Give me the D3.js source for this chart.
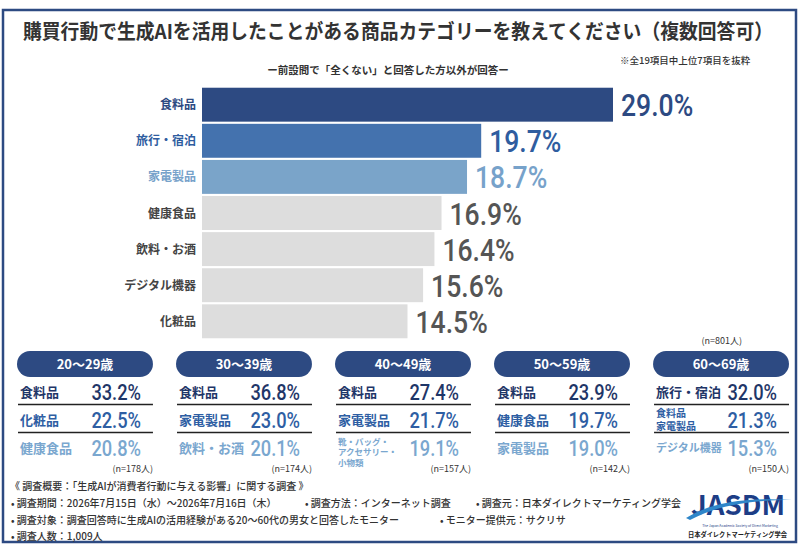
<!DOCTYPE html>
<html>
<head>
<meta charset="utf-8">
<script src="https://cdn.jsdelivr.net/npm/d3@7"></script>
<style>
    body { margin: 0; background: #fff; }
    text { font-family: "Noto Sans CJK JP", "Noto Sans", sans-serif; }
    .num { font-family: Roboto, "DejaVu Sans", sans-serif; font-weight: 500; }
</style>
</head>
<body>
<div id="chart-area"></div>
<script>
/*
*    chart.js
*/

//  Data

var categories = ["食料品", "旅行・宿泊", "家電製品", "健康食品", "飲料・お酒", "デジタル機器", "化粧品"];
var shares = [29.0, 19.7, 18.7, 16.9, 16.4, 15.6, 14.5];
var totalCount = 801;

var ageGroups = ["20〜29歳", "30〜39歳", "40〜49歳", "50〜59歳", "60〜69歳"];
var ageCounts = [178, 174, 157, 142, 150];
var ageItems = [
    ["食料品", "化粧品", "健康食品"],
    ["食料品", "家電製品", "飲料・お酒"],
    ["食料品", "家電製品", "靴・バッグ・|アクセサリー・|小物類"],
    ["食料品", "健康食品", "家電製品"],
    ["旅行・宿泊", "食料品|家電製品", "デジタル機器"]
];
var ageValues = [
    [33.2, 22.5, 20.8],
    [36.8, 23.0, 20.1],
    [27.4, 21.7, 19.1],
    [23.9, 19.7, 19.0],
    [32.0, 21.3, 15.3]
];

var title = "購買行動で生成AIを活用したことがある商品カテゴリーを教えてください（複数回答可）";
var subtitle = "ー前設問で「全くない」と回答した方以外が回答ー";
var note = "※全19項目中上位7項目を抜粋";
var surveyTitle = "《 調査概要：「生成AIが消費者行動に与える影響」に関する調査 》";
var surveyLines = [
    ["• 調査期間：2026年7月15日（水）～2026年7月16日（木）", "• 調査方法：インターネット調査", "• 調査元：日本ダイレクトマーケティング学会"],
    ["• 調査対象：調査回答時に生成AIの活用経験がある20～60代の男女と回答したモニター", "• モニター提供元：サクリサ"],
    ["• 調査人数：1,009人"]
];

var W = 800, H = 550;
var navy = "#2d4a82";
var barFill = ["#2d4a82", "#4472ae", "#7aa4c9"];
var labelFill = ["#2d4a82", "#2f5d9f", "#77a2ca"];
var rowFill = ["#1f3668", "#2e5ea3", "#7aa7cf"];
var squeeze = 0.83;

var svg = d3.select("#chart-area").append("svg")
    .attr("width", W)
    .attr("height", H);

//  frame

svg.append("rect")
    .attr("x", 3).attr("y", 10)
    .attr("width", 793).attr("height", 532)
    .attr("fill", "none")
    .attr("stroke", navy)
    .attr("stroke-width", 2.5);

//  titles

svg.append("text")
    .attr("transform", "translate(23,39) scale(1,1.12)")
    .attr("textLength", 750)
    .attr("lengthAdjust", "spacingAndGlyphs")
    .attr("font-size", 18.3)
    .attr("font-weight", 700)
    .attr("fill", "#333")
    .text(title);

svg.append("text")
    .attr("x", 388).attr("y", 74)
    .attr("text-anchor", "middle")
    .attr("font-size", 10.5)
    .attr("font-weight", 700)
    .attr("fill", "#333")
    .text(subtitle);

svg.append("text")
    .attr("x", 620).attr("y", 64)
    .attr("font-size", 9.5)
    .attr("font-weight", 500)
    .attr("fill", "#333")
    .text(note);

//  squeezed number text helper

function numText(g, x, y, size, anchor, color, str) {
    g.append("text")
        .attr("class", "num")
        .attr("transform", "translate(" + x + "," + y + ") scale(" + squeeze + ",1)")
        .attr("text-anchor", anchor)
        .attr("font-size", size)
        .attr("fill", color)
        .text(str);
}

//  Scales

var x = d3.scaleLinear()
    .domain([0, d3.max(shares)])
    .range([202, 613]);

var y = d3.scaleBand()
    .domain(categories)
    .range([87, 339])
    .paddingInner(0.06)
    .paddingOuter(0.02);

//  bars

var bars = svg.append("g");

bars.selectAll("rect")
    .data(shares)
    .enter()
    .append("rect")
    .attr("x", x(0))
    .attr("y", (d, i) => y(categories[i]))
    .attr("width", (d) => x(d) - x(0))
    .attr("height", y.bandwidth())
    .attr("fill", (d, i) => barFill[i] || "#dddddd");

bars.selectAll(".cat")
    .data(categories)
    .enter()
    .append("text")
    .attr("class", "cat")
    .attr("x", 196)
    .attr("y", (d) => y(d) + y.bandwidth() / 2 + 4.5)
    .attr("text-anchor", "end")
    .attr("font-size", 12)
    .attr("font-weight", 700)
    .attr("fill", (d, i) => labelFill[i] || "#444")
    .text((d) => d);

shares.forEach((d, i) => {
    numText(bars, x(d) + 8, y(categories[i]) + y.bandwidth() / 2 + 11.5, 32, "start",
        labelFill[i] || "#555", d.toFixed(1) + "%");
});

svg.append("text")
    .attr("x", 742).attr("y", 344)
    .attr("text-anchor", "end")
    .attr("font-size", 9)
    .attr("fill", "#333")
    .text("(n=" + totalCount + "人)");

//  age boxes

var boxX = d3.scaleBand()
    .domain(ageGroups)
    .range([17, 789])
    .paddingInner(0.145)
    .paddingOuter(0);

var rowY = [392, 420, 448];

ageGroups.forEach((grp, gi) => {
    var bx = boxX(grp);
    var bw = boxX.bandwidth();
    var g = svg.append("g");

    g.append("rect")
        .attr("x", bx).attr("y", 351)
        .attr("width", bw).attr("height", 26)
        .attr("rx", 13)
        .attr("fill", navy);

    g.append("text")
        .attr("x", bx + bw / 2).attr("y", 369)
        .attr("text-anchor", "middle")
        .attr("font-size", 13)
        .attr("font-weight", 700)
        .attr("fill", "#fff")
        .text(grp);

    [404.5, 432.5].forEach((ly) => {
        g.append("line")
            .attr("x1", bx + 1).attr("x2", bx + bw)
            .attr("y1", ly).attr("y2", ly)
            .attr("stroke", "#222")
            .attr("stroke-width", 1.6);
    });

    ageItems[gi].forEach((item, ri) => {
        var parts = item.split("|");
        var size = parts.length === 3 ? 8.5 : parts.length === 2 ? 10 : (item.length >= 6 ? 11 : 13);
        var lh = parts.length === 3 ? 10.5 : 13;
        var mid = parts.length === 3 ? 452 : rowY[ri];
        var y0 = mid + size * 0.37 - (parts.length - 1) * lh / 2;
        parts.forEach((p, pi) => {
            g.append("text")
                .attr("x", bx + 3)
                .attr("y", y0 + pi * lh)
                .attr("font-size", size)
                .attr("font-weight", 700)
                .attr("fill", rowFill[ri])
                .text(p);
        });
        numText(g, bx + 124, rowY[ri] + 7.8, 22, "end", rowFill[ri], ageValues[gi][ri].toFixed(1) + "%");
    });

    g.append("text")
        .attr("x", bx + bw).attr("y", 472)
        .attr("text-anchor", "end")
        .attr("font-size", 9)
        .attr("fill", "#333")
        .text("(n=" + ageCounts[gi] + "人)");
});

//  survey notes

var foot = svg.append("g")
    .attr("font-size", 10)
    .attr("font-weight", 500)
    .attr("fill", "#333");

foot.append("text")
    .attr("x", 10).attr("y", 490)
    .text(surveyTitle);

var colX = [[11, 305, 476], [11, 440], [11]];

surveyLines.forEach((line, li) => {
    line.forEach((t, ti) => {
        foot.append("text")
            .attr("x", colX[li][ti])
            .attr("y", 507 + li * 16.5)
            .text(t);
    });
});

//  logo

var logo = svg.append("g");

logo.append("text")
    .attr("x", 691).attr("y", 515)
    .attr("textLength", 94)
    .attr("lengthAdjust", "spacingAndGlyphs")
    .attr("font-family", "Liberation Sans, sans-serif")
    .attr("font-size", 27)
    .attr("font-weight", 700)
    .attr("fill", "#1d3d86")
    .text("JASDM");

logo.append("path")
    .attr("d", "M686,518 C710,503 745,497 792,500 C750,500 718,505 690,520 Z")
    .attr("fill", "#2f86c9");

logo.append("text")
    .attr("x", 740).attr("y", 527)
    .attr("text-anchor", "middle")
    .attr("font-family", "Liberation Sans, sans-serif")
    .attr("font-size", 3.4)
    .attr("fill", "#1d3d86")
    .text("The Japan Academic Society of Direct Marketing");

logo.append("text")
    .attr("x", 688).attr("y", 537)
    .attr("textLength", 99)
    .attr("lengthAdjust", "spacingAndGlyphs")
    .attr("font-size", 6.5)
    .attr("font-weight", 700)
    .attr("fill", "#222")
    .text("日本ダイレクトマーケティング学会");
</script>
</body>
</html>
